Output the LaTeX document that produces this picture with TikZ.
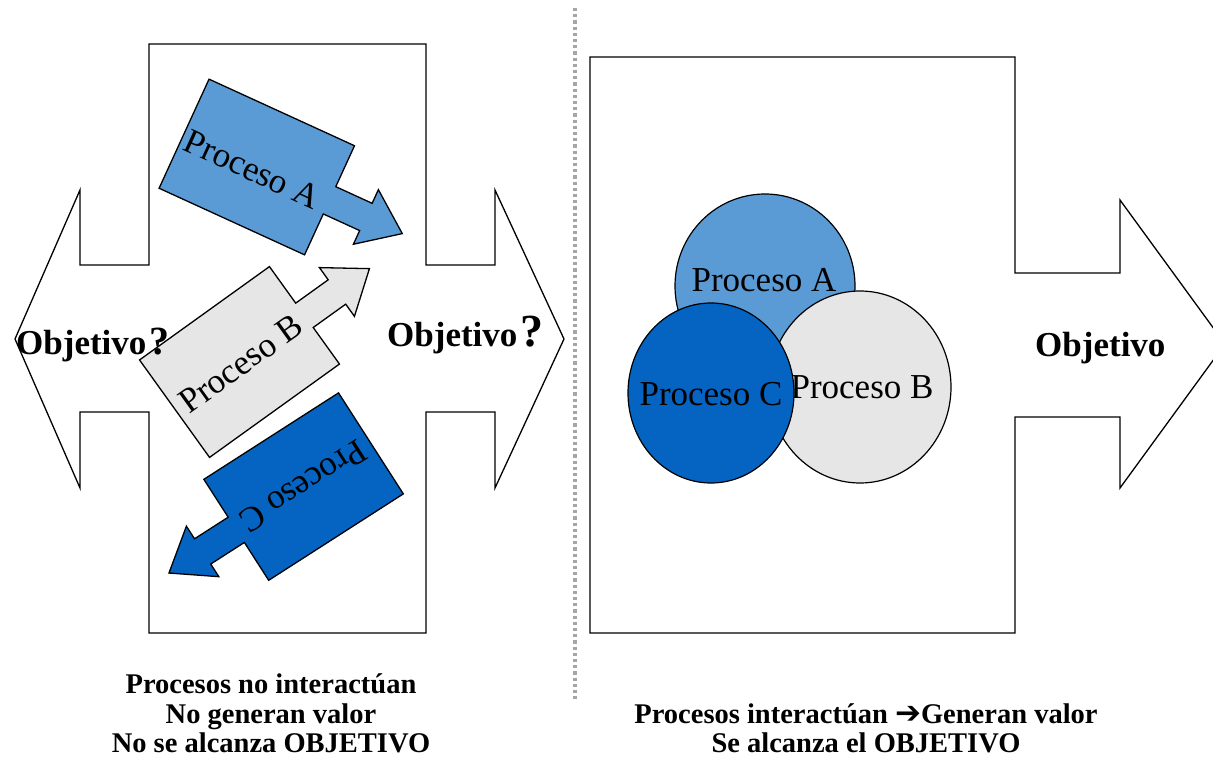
\documentclass[tikz,border=0pt]{standalone}
\usepackage{fontspec}
\setmainfont{Liberation Serif}
\newfontfamily\arrowfont{DejaVu Sans}
\usetikzlibrary{shapes.geometric}
\definecolor{procA}{HTML}{5B9BD5}
\definecolor{procB}{HTML}{E7E6E6}
\definecolor{procC}{HTML}{0563C1}
\definecolor{sepgray}{HTML}{A6A6A6}
\newcommand\procshape[1]{\draw[outline, fill=#1] (-80,-60) -- (80,-60) -- (80,-15) -- (120,-15) -- (120,-30) -- (160,0) -- (120,30) -- (120,15) -- (80,15) -- (80,60) -- (-80,60) -- cycle;}
\tikzset{
 outline/.style={draw=black, line width=1.3pt, line join=miter},
 proctext/.style={font=\fontsize{35}{35}\selectfont, inner sep=0pt},
 circ/.style={ellipse, draw=black, line width=1.2pt, inner sep=0pt},
 goal/.style={font=\bfseries\fontsize{35}{35}\selectfont, inner sep=0pt, anchor=base west},
 caption/.style={font=\bfseries\fontsize{28.5}{29.5}\selectfont, align=center, inner sep=0pt, anchor=south},
}
\begin{document}
\begin{tikzpicture}[x=1pt,y=-1pt]
\useasboundingbox (0,0) rectangle (1213,759);
\fill[white] (0,0) rectangle (1213,759);
% left double arrow
\draw[outline, fill=white] (149,44) -- (426,44) -- (426,265) -- (495,265) -- (495,190) -- (564,339) -- (495,488) -- (495,412) -- (426,412) -- (426,633) -- (149,633) -- (149,412) -- (80,412) -- (80,488) -- (15,339) -- (80,190) -- (80,265) -- (149,265) -- cycle;
% separator
\coordinate (sepTop) at (575,8);
\coordinate (sepBot) at (575,702);
\draw[sepgray, line width=3.2pt, dash pattern=on 3.2pt off 3pt] (sepTop) -- (sepBot);
% right arrow
\draw[outline, fill=white] (590,57) -- (1015,57) -- (1015,273) -- (1120,273) -- (1120,200) -- (1225,344) -- (1120,488) -- (1120,417) -- (1015,417) -- (1015,633) -- (590,633) -- cycle;
% process A box
\begin{scope}[shift={(256.8,167)}, rotate=-24.6]
\procshape{procA}
\node[proctext, transform shape] (boxA) at (-3,4) {Proceso A};
\end{scope}
% process B box
\begin{scope}[shift={(239.5,362)}, rotate=35.7]
\procshape{procB}
\node[proctext, transform shape] (boxB) at (0,2) {Proceso B};
\end{scope}
% process C box
\begin{scope}[shift={(303.6,486.6)}, rotate=212.7]
\procshape{procC}
\node[proctext, transform shape] (boxC) at (0,0) {Proceso C};
\end{scope}
% circles
\node[circ, fill=procA, minimum width=180pt, minimum height=184pt] (cA) at (765,286) {};
\node[proctext, anchor=base] (tA) at (764,291.7) {Proceso A};
\node[circ, fill=procB, minimum width=182pt, minimum height=192pt] (cB) at (860,387) {};
\node[proctext, anchor=base] (tB) at (862,398.3) {Proceso B};
\node[circ, fill=procC, minimum width=166pt, minimum height=180pt] (cC) at (711,393) {};
\node[proctext, anchor=base] (tC) at (711,405) {Proceso C};
% goals
\node[goal] (gL) at (16,355) {Objetivo\hspace{3pt}\fontsize{40}{40}\selectfont ?};
\node[goal] (gM) at (387,346.7) {Objetivo\hspace{3pt}\fontsize{46}{46}\selectfont ?};
\node[goal] (gR) at (1035,356.7) {Objetivo};
% captions
\node[caption] (capL) at (271,753.3) {Procesos no interactúan\\No generan valor\\No se alcanza OBJETIVO};
\node[caption] (capR) at (866,753.3) {Procesos interactúan {\arrowfont\fontsize{31}{31}\selectfont ➔}Generan valor\\Se alcanza el OBJETIVO};
\end{tikzpicture}
\end{document}
